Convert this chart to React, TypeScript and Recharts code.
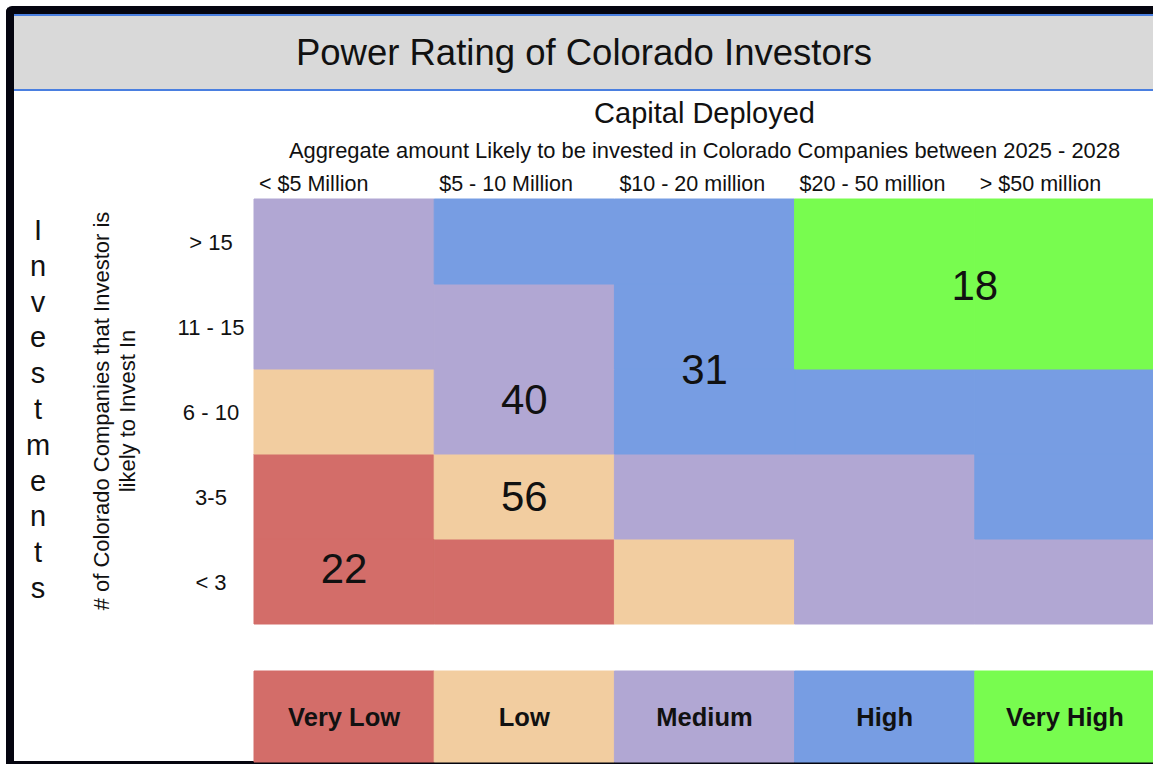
import React from 'react';
import { ComposedChart, XAxis, YAxis, ReferenceArea, Scatter } from 'recharts';

const colLabels = ['< $5 Million', '$5 - 10 Million', '$10 - 20 million', '$20 - 50 million', '> $50 million'];
// bottom to top
const rowLabels = ['< 3', '3-5', '6 - 10', '11 - 15', '> 15'];
const levels = ['Very Low', 'Low', 'Medium', 'High', 'Very High'];
const levelColors = ['#d36d69', '#f2cda0', '#b1a7d3', '#779de3', '#78fc4f'];

// rating level index per cell, rows bottom to top, columns left to right
const ratingGrid = [
  [0, 0, 1, 2, 2],
  [0, 1, 2, 2, 3],
  [1, 2, 3, 3, 3],
  [2, 2, 3, 4, 4],
  [2, 3, 3, 4, 4],
];

const investorCounts = [
  { x: 0.5, y: 0.65, value: 22 },
  { x: 1.5, y: 1.5, value: 56 },
  { x: 1.5, y: 2.64, value: 40 },
  { x: 2.5, y: 3, value: 31 },
  { x: 4, y: 3.98, value: 18 },
];

const FONT = '"Liberation Sans", Arial, Helvetica, sans-serif';
const Y_MIN = -1.6235;
const LEGEND_TOP = -0.553;

const ColTick = (props: any) => {
  const { x, payload } = props;
  return (
    <text x={x + 5} y={191} fontSize={21.5} fontFamily={FONT} fill="#111">
      {colLabels[payload.value]}
    </text>
  );
};

const RowTick = (props: any) => {
  const { y, payload } = props;
  return (
    <text x={211} y={y + 1} fontSize={22} fontFamily={FONT} fill="#111" textAnchor="middle" dominantBaseline="central">
      {rowLabels[Math.floor(payload.value)]}
    </text>
  );
};

const CountLabel = (props: any) => {
  const { cx, cy, payload } = props;
  return (
    <text x={cx} y={cy} fontSize={42} fontFamily={FONT} fill="#111" textAnchor="middle" dominantBaseline="central">
      {payload.value}
    </text>
  );
};

export default function App() {
  return (
    <div style={{ position: 'relative', width: 1153, height: 764, overflow: 'hidden', background: '#fff', fontFamily: FONT }}>
      <style>{`body{margin:0}`}</style>
      {/* frame */}
      <div style={{ position: 'absolute', left: 6, top: 6, width: 1160, height: 770, border: '8px solid #05050f', borderBottomWidth: 0, borderRadius: 6, boxSizing: 'border-box' }} />
      <div style={{ position: 'absolute', left: 6, top: 761, width: 1160, height: 3, background: '#05050f' }} />
      {/* title bar */}
      <div style={{ position: 'absolute', left: 14, top: 14, width: 1150, height: 77, background: '#d9d9d9', borderTop: '2px solid #4a7fe0', borderBottom: '2px solid #4a7fe0', boxSizing: 'border-box' }} />
      <div style={{ position: 'absolute', left: 14, top: 16, width: 1140, height: 73, lineHeight: '73px', textAlign: 'center', fontSize: 36.5, color: '#111' }}>
        Power Rating of Colorado Investors
      </div>
      <div style={{ position: 'absolute', left: 254, top: 97, width: 901, textAlign: 'center', fontSize: 29, color: '#111' }}>
        Capital Deployed
      </div>
      <div style={{ position: 'absolute', left: 254, top: 138, width: 901, textAlign: 'center', fontSize: 21.9, color: '#111' }}>
        Aggregate amount Likely to be invested in Colorado Companies between 2025 - 2028
      </div>
      {/* stacked axis title */}
      <div style={{ position: 'absolute', left: 22, top: 213, width: 32, textAlign: 'center', fontSize: 29, lineHeight: '35.8px', color: '#111' }}>
        {'Investments'.split('').map((c, i) => (
          <div key={i}>{c}</div>
        ))}
      </div>
      <div style={{ position: 'absolute', left: 115, top: 411, width: 440, transform: 'translate(-50%, -50%) rotate(-90deg)', textAlign: 'center', fontSize: 22, lineHeight: '26px', color: '#111' }}>
        # of Colorado Companies that Investor is
        <br />
        likely to Invest In
      </div>

      <div style={{ position: 'absolute', left: 0, top: 0 }}>
        <ComposedChart width={1155} height={764} margin={{ top: 159, right: 0, bottom: 2, left: 154 }} data={investorCounts}>
          <XAxis
            type="number"
            dataKey="x"
            orientation="top"
            domain={[0, 5]}
            ticks={[0, 1, 2, 3, 4]}
            height={40}
            axisLine={false}
            tickLine={false}
            tick={<ColTick />}
          />
          <YAxis
            type="number"
            dataKey="y"
            domain={[Y_MIN, 5]}
            ticks={[0.5, 1.5, 2.5, 3.5, 4.5]}
            width={100}
            axisLine={false}
            tickLine={false}
            tick={<RowTick />}
          />
          {ratingGrid.map((row, r) =>
            row.map((lvl, c) => (
              <ReferenceArea
                key={`c-${r}-${c}`}
                x1={c}
                x2={c + 1}
                y1={r}
                y2={r + 1}
                fill={levelColors[lvl]}
                fillOpacity={1}
                stroke={levelColors[lvl]}
                strokeWidth={1}
              />
            ))
          )}
          {levels.map((name, i) => (
            <ReferenceArea
              key={`l-${i}`}
              x1={i}
              x2={i + 1}
              y1={Y_MIN}
              y2={LEGEND_TOP}
              fill={levelColors[i]}
              fillOpacity={1}
              stroke={levelColors[i]}
              strokeWidth={1}
              label={{ value: name, position: 'center', fontSize: 25.5, fontWeight: 'bold', fill: '#111', fontFamily: FONT }}
            />
          ))}
          <Scatter data={investorCounts} dataKey="y" shape={<CountLabel />} isAnimationActive={false} />
        </ComposedChart>
      </div>
    </div>
  );
}
